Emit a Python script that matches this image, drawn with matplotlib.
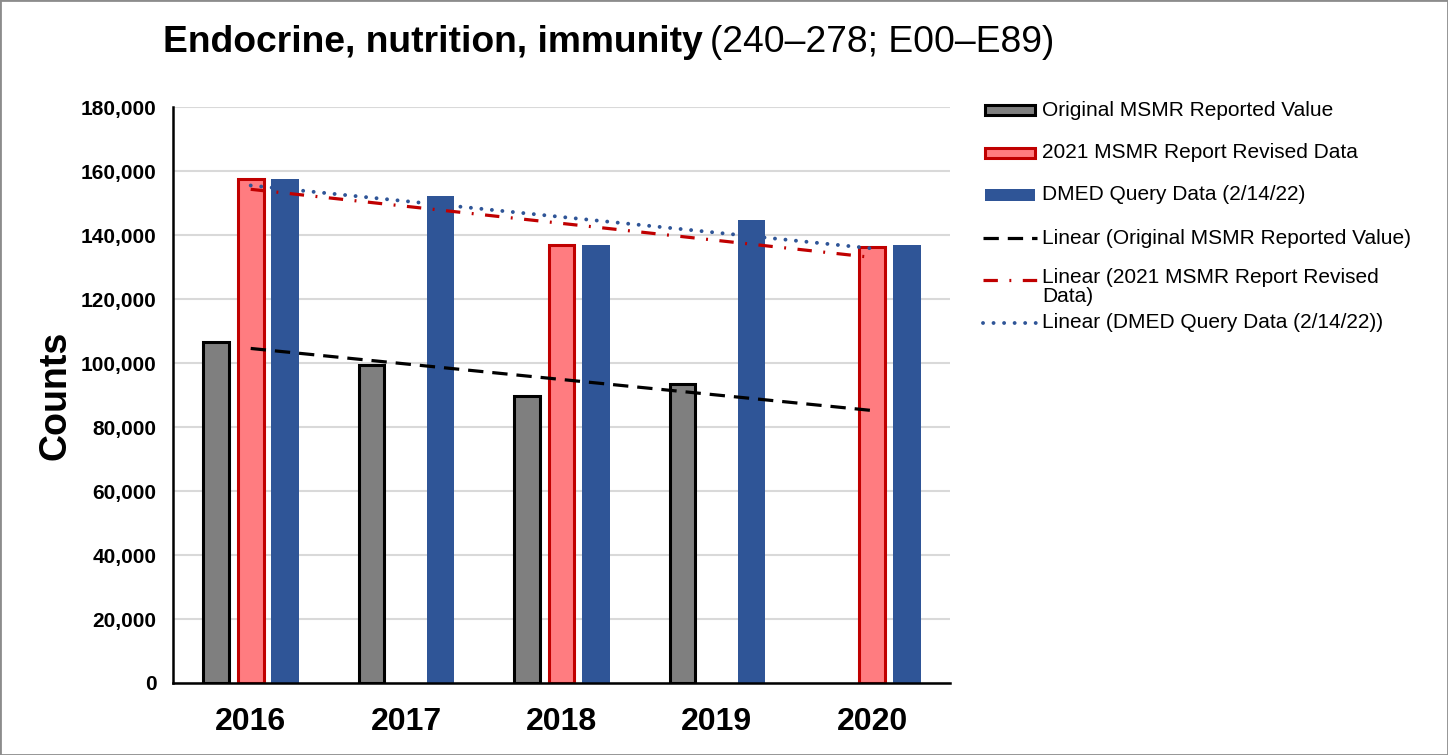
import numpy as np
import matplotlib
matplotlib.use("Agg")
import matplotlib.pyplot as plt
from matplotlib.lines import Line2D
from matplotlib.patches import Rectangle
from matplotlib.ticker import FuncFormatter

plt.rcParams["font.family"] = ["Liberation Sans", "DejaVu Sans"]

# values (None = no bar for that year)
years = ["2016", "2017", "2018", "2019", "2020"]
original_values = [106500, 99300, 89800, 93500, None]
revised_values = [157600, None, 137000, None, 136300]
dmed_values = [157600, 152200, 137000, 144600, 136800]

series_names = [
    "Original MSMR Reported Value",
    "2021 MSMR Report Revised Data",
    "DMED Query Data (2/14/22)",
]
trend_names = [
    "Linear (Original MSMR Reported Value)",
    "Linear (2021 MSMR Report Revised\nData)",
    "Linear (DMED Query Data (2/14/22))",
]

GRAY = "#7F7F7F"
PINK = "#FF7C80"
DARK_RED = "#C00000"
BLUE = "#2F5597"

W, H = 1448, 755


def to_array(values):
    return np.array([np.nan if v is None else v for v in values], dtype=float)


def linear_trend(x, y):
    mask = ~np.isnan(y)
    slope, intercept = np.polyfit(x[mask], y[mask], 1)
    return slope * x + intercept


def fx(px):
    return px / W


def fy(py):
    return 1 - py / H


fig = plt.figure(figsize=(W / 100, H / 100), dpi=100)
ax = fig.add_axes([fx(173), fy(683), fx(950) - fx(173), fy(107) - fy(683)])

x = np.arange(len(years))
orig = to_array(original_values)
rev = to_array(revised_values)
dmed = to_array(dmed_values)

bar_width = 0.165
offset = 0.222
edge_lw = 2.2

m = ~np.isnan(orig)
ax.bar(x[m] - offset, orig[m], bar_width, color=GRAY, edgecolor="black",
       linewidth=edge_lw, zorder=2)
m = ~np.isnan(rev)
ax.bar(x[m], rev[m], bar_width, color=PINK, edgecolor=DARK_RED,
       linewidth=edge_lw, zorder=2)
ax.bar(x + offset, dmed, bar_width + 0.012, color=BLUE, zorder=2)

# linear trendlines, fit across category positions like Excel does
black_dash = (0, (4.8, 2.8))
red_dashdot = (0, (4.5, 3.6, 0.6, 3.6))
blue_dot = (0, (0.01, 2.7))
ax.plot(x, linear_trend(x, orig), color="black", lw=2.3, linestyle=black_dash, zorder=3)
ax.plot(x, linear_trend(x, rev), color=DARK_RED, lw=2.3, linestyle=red_dashdot, zorder=3)
ax.plot(x, linear_trend(x, dmed), color=BLUE, lw=2.8, linestyle=blue_dot,
        dash_capstyle="round", zorder=3)

ax.set_xlim(-0.5, 4.5)
ax.set_ylim(0, 180000)
ax.set_yticks(np.arange(0, 180001, 20000))
ax.yaxis.set_major_formatter(FuncFormatter(lambda v, p: f"{v:,.0f}"))
ax.set_xticks(x, years)
ax.grid(axis="y", color="#D9D9D9", lw=1.5)
ax.set_axisbelow(True)
for side in ["top", "right"]:
    ax.spines[side].set_visible(False)
for side in ["left", "bottom"]:
    ax.spines[side].set_linewidth(1.8)
ax.tick_params(axis="y", length=0, pad=12, labelsize=15)
ax.tick_params(axis="x", length=0, pad=17, labelsize=23)
for label in ax.get_xticklabels() + ax.get_yticklabels():
    label.set_fontweight("bold")
ax.set_ylabel("Counts", fontsize=27, fontweight="bold")
ax.yaxis.set_label_coords(-0.128, 0.5)

# title: bold part followed by regular part
title = fig.text(fx(163), fy(43), "Endocrine, nutrition, immunity", fontsize=26.8,
                 fontweight="bold", va="center", ha="left")
ax.annotate("(240–278; E00–E89)", xy=(1, 0), xycoords=title, xytext=(5, 0),
            textcoords="offset points", fontsize=26.8, va="bottom", ha="left")

# legend drawn by hand so the wrapped label overlaps like the original
row_y = [110, 153, 195, 238, 280, 323]
handle_x0, handle_x1, text_x = 983, 1037, 1042

patch_styles = [
    dict(facecolor=GRAY, edgecolor="black", linewidth=edge_lw),
    dict(facecolor=PINK, edgecolor=DARK_RED, linewidth=edge_lw),
    dict(facecolor=BLUE, edgecolor="none", linewidth=0),
]
for i, (name, style) in enumerate(zip(series_names, patch_styles)):
    yc = row_y[i]
    half = 5 if style["linewidth"] else 6
    fig.add_artist(Rectangle((fx(handle_x0 + 2), fy(yc + half)), fx(handle_x1 - handle_x0 - 4),
                             fy(yc - half) - fy(yc + half), transform=fig.transFigure, **style))
    fig.text(fx(text_x), fy(yc), name, fontsize=15, va="center", ha="left")

line_styles = [
    dict(color="black", linestyle=black_dash, lw=2.3),
    dict(color=DARK_RED, linestyle=red_dashdot, lw=2.3),
    dict(color=BLUE, linestyle=blue_dot, dash_capstyle="round", lw=2.8),
]
for i, (name, style) in enumerate(zip(trend_names, line_styles)):
    yc = row_y[i + 3]
    fig.add_artist(Line2D([fx(handle_x0), fx(handle_x1)], [fy(yc), fy(yc)],
                          transform=fig.transFigure, **style))
    if "\n" in name:
        fig.text(fx(text_x), fy(yc - 12), name, fontsize=15, va="top", ha="left",
                 linespacing=1.0)
    else:
        fig.text(fx(text_x), fy(yc), name, fontsize=15, va="center", ha="left")

# thin gray frame around the whole picture
fig.add_artist(Rectangle((0, 0), 1, 1, transform=fig.transFigure, fill=False,
                         edgecolor="#8C8C8C", linewidth=2))

fig.savefig("out.png", dpi=100)
